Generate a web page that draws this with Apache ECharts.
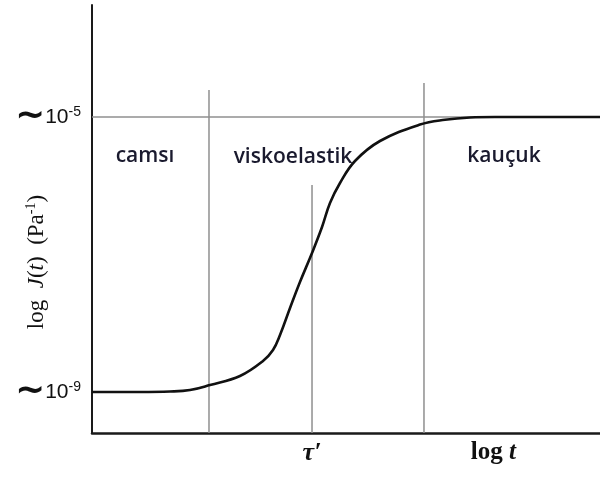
<!DOCTYPE html>
<html>
<head>
<meta charset="utf-8">
<script src="https://cdn.jsdelivr.net/npm/echarts@6/dist/echarts.min.js"></script>
<style>
  html, body { margin: 0; padding: 0; background: #fff; }
  #chart { width: 600px; height: 479px; }
</style>
</head>
<body>
<div id="chart"></div>
<script>
// Creep compliance J(t) against log t: glassy, viscoelastic and rubbery regions.
const logT = [0, 0.945, 1.535, 1.929, 2.323, 2.913, 3.366, 3.563, 3.701, 3.898, 4.094, 4.331,
              4.528, 4.685, 4.882, 5.177, 5.669, 6.457, 6.949, 7.441, 7.933, 10];
const logJ = [-9, -9, -8.993, -8.971, -8.898, -8.767, -8.549, -8.389, -8.171, -7.778, -7.4, -6.978,
              -6.6, -6.251, -5.96, -5.64, -5.349, -5.11, -5.04, -5.007, -5, -5];

// region boundaries (log t) and how high each guide line reaches (log J)
const boundaryX = [2.303, 4.331, 6.535];
const boundaryTop = [-4.607, -5.989, -4.505];

// plateau levels and their tick labels
const levelValues = [-9, -5];
const levelLabels = ['-9', '-5'];

// x-axis labels
const xLabelValues = [4.331, 7.9];
const xLabelTexts = ['tau', 'logt'];

const regionNames = ['camsı', 'viskoelastik', 'kauçuk'];

const yMin = -9.596, yMax = -3.371;
const xMin = 0, xMax = 10;

const chart = echarts.init(document.getElementById('chart'), null, { renderer: 'canvas' });

const guideColor = '#8f8f8f';
const series = [];

// horizontal guide at the upper plateau
series.push({
  type: 'line', silent: true, symbol: 'none', z: 1,
  lineStyle: { color: guideColor, width: 1.5 },
  data: [[xMin, levelValues[1]], [xMax, levelValues[1]]]
});

// vertical region boundaries
boundaryX.forEach((bx, i) => {
  series.push({
    type: 'line', silent: true, symbol: 'none', z: 1,
    lineStyle: { color: guideColor, width: 1.5 },
    data: [[bx, yMin], [bx, boundaryTop[i]]]
  });
});

// compliance curve
series.push({
  type: 'line', symbol: 'none', z: 5,
  smooth: 0.4,
  lineStyle: { color: '#111', width: 2.6 },
  data: logT.map((x, i) => [x, logJ[i]])
});

const regionStyle = {
  fontFamily: 'Open Sans', fontSize: 21, fontWeight: 600, fill: '#1a1a2e'
};

chart.setOption({
  animation: false,
  backgroundColor: '#fff',
  grid: { left: 92, right: 0, top: 5, bottom: 46 },
  xAxis: {
    type: 'value', min: xMin, max: xMax,
    splitLine: { show: false },
    axisTick: { show: false },
    axisLine: { lineStyle: { color: '#1a1a1a', width: 2.5 } },
    axisLabel: {
      customValues: xLabelValues,
      margin: 7,
      formatter: v => {
        const i = xLabelValues.indexOf(v);
        return xLabelTexts[i] === 'tau' ? '{t|τ\u2032}' : '{l|log}{i| t}';
      },
      rich: {
        t: { fontFamily: 'Liberation Serif', fontStyle: 'italic', fontWeight: 'bold', fontSize: 26, color: '#111' },
        l: { fontFamily: 'Liberation Serif', fontWeight: 'bold', fontSize: 25, color: '#111' },
        i: { fontFamily: 'Liberation Serif', fontStyle: 'italic', fontWeight: 'bold', fontSize: 25, color: '#111' }
      }
    }
  },
  yAxis: {
    type: 'value', min: yMin, max: yMax,
    splitLine: { show: false },
    axisTick: { show: false },
    axisLine: { lineStyle: { color: '#1a1a1a', width: 2 } },
    axisLabel: {
      customValues: levelValues,
      margin: 11,
      formatter: v => '{w|∼}{n|10}{e|' + levelLabels[levelValues.indexOf(v)] + '}',
      rich: {
        w: { fontFamily: 'DejaVu Sans', fontWeight: 'bold', fontSize: 36, color: '#111', lineHeight: 24, verticalAlign: 'middle' },
        n: { fontFamily: 'Liberation Sans', fontSize: 21, color: '#111', lineHeight: 24 },
        e: { fontFamily: 'Liberation Sans', fontSize: 14, color: '#111', lineHeight: 13, verticalAlign: 'top' }
      }
    }
  },
  graphic: [
    {
      type: 'text', x: 37, y: 262, rotation: Math.PI / 2,
      style: {
        text: '{a|log  }{b|J}{a|(}{b|t}{a|)  (Pa}{s|-1}{a|)}',
        align: 'center', verticalAlign: 'middle',
        rich: {
          a: { fontFamily: 'Liberation Serif', fontSize: 23, fill: '#111', lineHeight: 26 },
          b: { fontFamily: 'Liberation Serif', fontStyle: 'italic', fontSize: 23, fill: '#111', lineHeight: 26 },
          s: { fontFamily: 'Liberation Serif', fontSize: 14, fill: '#111', lineHeight: 14, verticalAlign: 'top' }
        }
      }
    },
    { type: 'text', x: 145, y: 156, style: Object.assign({ text: regionNames[0], align: 'center', verticalAlign: 'middle' }, regionStyle) },
    { type: 'text', x: 293, y: 157, style: Object.assign({ text: regionNames[1], align: 'center', verticalAlign: 'middle' }, regionStyle) },
    { type: 'text', x: 504, y: 156, style: Object.assign({ text: regionNames[2], align: 'center', verticalAlign: 'middle' }, regionStyle) }
  ],
  series: series
});
</script>
</body>
</html>
